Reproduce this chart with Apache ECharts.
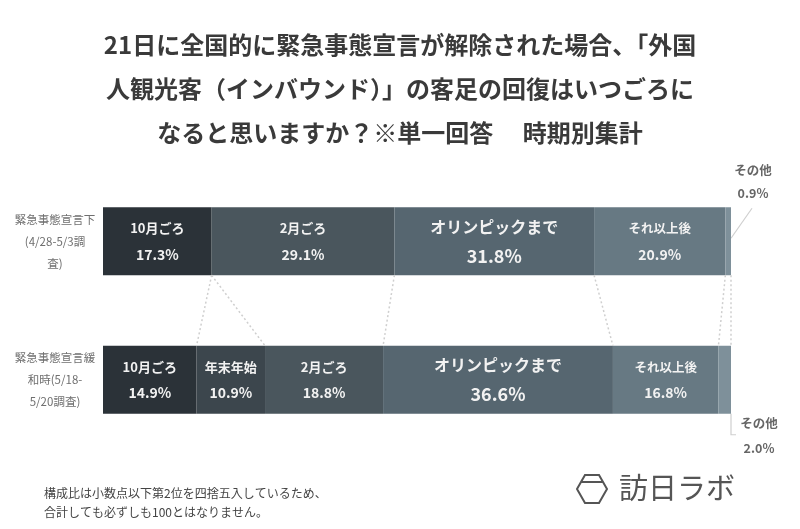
<!DOCTYPE html>
<html><head><meta charset="utf-8">
<script src="https://cdn.jsdelivr.net/npm/echarts@6/dist/echarts.min.js"></script>
<style>html,body{margin:0;padding:0;background:#fff}#c{width:800px;height:529px}</style>
</head><body><div id="c"></div>
<script>
const titleLines = ['21日に全国的に緊急事態宣言が解除された場合、「外国','人観光客（インバウンド）」の客足の回復はいつごろに','なると思いますか？※単一回答　 時期別集計'];
const categories = ['緊急事態宣言下\n(4/28-5/3調\n査)', '緊急事態宣言緩\n和時(5/18-\n5/20調査)'];
const seriesNames = ['10月ごろ', '年末年始', '2月ごろ', 'オリンピックまで', 'それ以上後', 'その他'];
const v10 = [17.3, 14.9];
const vNenmatsu = [0, 10.9];
const vFeb = [29.1, 18.8];
const vOlympic = [31.8, 36.6];
const vLater = [20.9, 16.8];
const vOther = [0.9, 2.0];
const footnote = ['構成比は小数点以下第2位を四捨五入しているため、', '合計しても必ずしも100とはなりません。'];
const logoText = '訪日ラボ';

const allValues = [v10, vNenmatsu, vFeb, vOlympic, vLater, vOther];
const colors = ['#2b3238', '#3c464d', '#4a565d', '#566670', '#677983', '#7e909a'];
const FONT = "'Noto Sans CJK JP', sans-serif";
const BAR_W = 68;
const nameSize = [13, 13, 13, 16, 12.5, 12];
const valSize = [14, 14, 14, 18, 14, 12];

const chart = echarts.init(document.getElementById('c'));

const series = allValues.map((vals, i) => {
  const big = i === 3;
  return {
    name: seriesNames[i], type: 'bar', stack: 'total', barWidth: BAR_W,
    data: vals, itemStyle: { color: colors[i] },
    label: {
      show: i !== 5, position: 'inside', color: '#f4f4f4', fontFamily: FONT,
      formatter: p => p.value ? '{n|' + p.seriesName + '}\n{v|' + p.value.toFixed(1) + '%}' : '',
      rich: {
        n: { fontSize: nameSize[i], fontWeight: 'bold', color: '#f2f2f2', lineHeight: big ? 29 : 26, fontFamily: FONT },
        v: { fontSize: valSize[i], fontWeight: 'bold', color: '#f2f2f2', lineHeight: big ? 29 : 26, fontFamily: FONT }
      }
    },
    emphasis: { disabled: true }
  };
});

chart.setOption({
  animation: false,
  backgroundColor: '#ffffff',
  title: {
    text: titleLines.join('\n'), left: 'center', top: 18,
    textStyle: { fontSize: 24, fontWeight: 'bold', color: '#3a3a3a', lineHeight: 44, fontFamily: FONT }
  },
  grid: { left: 103, right: 69, top: 172, bottom: 80 },
  xAxis: { type: 'value', min: 0, max: 100, show: false },
  yAxis: {
    type: 'category', data: categories, inverse: true,
    axisLine: { show: false }, axisTick: { show: false },
    axisLabel: { color: '#6f6f6f', fontSize: 11.5, lineHeight: 22, align: 'center', margin: 48, fontFamily: FONT }
  },
  series: series
});

// Derived overlay: connectors and その他 labels from data via axes
function cum(idx, upto) { let s = 0; for (let k = 0; k <= upto; k++) s += allValues[k][idx]; return s; }
const xp = v => chart.convertToPixel({ xAxisIndex: 0 }, v);
const yp = i => chart.convertToPixel({ yAxisIndex: 0 }, i);
const y1b = yp(0) + BAR_W / 2, y2t = yp(1) - BAR_W / 2, y2b = yp(1) + BAR_W / 2, y1t = yp(0) - BAR_W / 2;
const g = [];
for (let s = 0; s < seriesNames.length; s++) {
  g.push({ type: 'line', shape: { x1: xp(cum(0, s)), y1: y1b, x2: xp(cum(1, s)), y2: y2t },
    style: { stroke: '#cfcfcf', lineWidth: 1.5, lineDash: [2, 2.5] }, z: 10 });
}
// その他 label bar 1
const o1x = xp(cum(0, 5));
g.push({ type: 'line', shape: { x1: o1x, y1: y1t + 31, x2: o1x + 21, y2: y1t + 1 }, style: { stroke: '#cfcfcf', lineWidth: 1.2 } });
g.push({ type: 'text', x: o1x + 22, y: y1t - 26, style: {
  text: seriesNames[5] + '\n' + vOther[0].toFixed(1) + '%', align: 'center', verticalAlign: 'middle',
  fill: '#666', font: 'bold 12.5px ' + FONT, lineHeight: 23 } });
// その他 label bar 2
const o2x = xp(cum(1, 5));
g.push({ type: 'polyline', shape: { points: [[o2x, y2b], [o2x, y2b + 21], [o2x + 5, y2b + 21]] }, style: { stroke: '#cfcfcf', lineWidth: 1.2, fill: null } });
g.push({ type: 'text', x: o2x + 28, y: y2b + 22, style: {
  text: seriesNames[5] + '\n' + vOther[1].toFixed(1) + '%', align: 'center', verticalAlign: 'middle',
  fill: '#666', font: 'bold 12.5px ' + FONT, lineHeight: 25 } });
// footnote
g.push({ type: 'text', left: 44, top: 484, style: { text: footnote.join('\n'), fill: '#444', font: '12px ' + FONT, lineHeight: 19 } });
// logo
g.push({ type: 'polygon', shape: { points: [[577, 489], [585, 475], [599, 475], [607, 489], [599, 503], [585, 503]] },
  style: { stroke: '#555', lineWidth: 2, fill: null } });
g.push({ type: 'line', shape: { x1: 581, y1: 482, x2: 603, y2: 482 }, style: { stroke: '#555', lineWidth: 2 } });
g.push({ type: 'text', left: 619, top: 473, style: { text: logoText, fill: '#555', font: '29px ' + FONT } });
chart.setOption({ graphic: g });
</script></body></html>
